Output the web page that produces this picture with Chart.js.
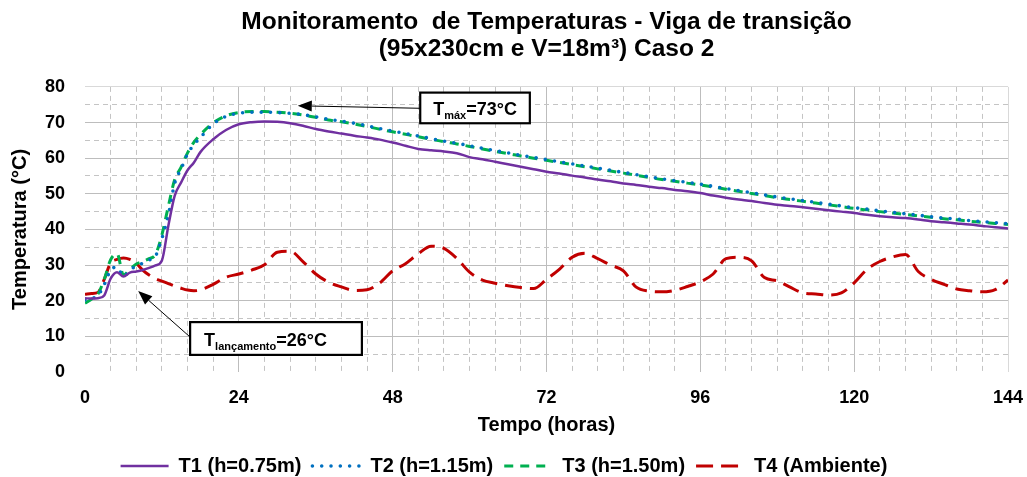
<!DOCTYPE html>
<html><head><meta charset="utf-8">
<script src="https://cdn.jsdelivr.net/npm/chart.js@4.4.0/dist/chart.umd.min.js"></script>
<style>html,body{margin:0;padding:0;background:#fff;}</style>
</head><body>
<canvas id="c" width="1027" height="477"></canvas>
<script>
// ---- data (hours, °C) ----
const hours = [0,1,2,3,4,5,6,7,8,9,10,11,12,13,14,15,16,17,18,
  20,22,24,26,28,30,32,34,36,38,40,42,44,46,48,50,52,54,56,58,60,62,64,66,68,70,72,74,76,78,80,
  82,84,86,88,90,92,94,96,98,100,102,104,106,108,110,112,114,116,118,120,122,124,126,128,130,132,
  134,136,138,140,142,144];
const T1 = [20.7,20.6,20.7,21.5,26.2,28.0,26.8,27.9,28.2,28.6,29.2,29.9,31.3,41.0,49.5,53.2,56.6,58.8,61.7,
  65.3,67.9,69.5,70.1,70.3,70.2,69.8,69.1,68.2,67.5,66.9,66.3,65.8,65.2,64.4,63.5,62.6,62.2,61.9,61.4,60.3,
  59.7,59.0,58.3,57.6,56.9,56.2,55.7,55.1,54.6,54.0,53.5,52.9,52.5,52.0,51.6,51.1,50.7,50.2,49.5,48.9,
  48.4,48.0,47.4,46.9,46.6,46.2,45.8,45.4,45.0,44.6,44.1,43.7,43.4,43.2,42.8,42.3,42.0,41.7,41.4,41.0,40.6,40.3];
const T2 = [20.2,20.7,21.4,24.5,28.6,29.4,26.8,28.6,29.7,30.5,31.4,32.5,37.5,44.0,53.0,57.0,61.2,63.8,65.8,
  69.6,71.7,72.6,72.9,72.9,72.8,72.6,72.2,71.6,70.9,70.4,69.8,69.1,68.3,67.6,66.9,66.2,65.5,64.8,64.2,63.5,
  62.8,62.1,61.5,60.8,60.2,59.6,59.0,58.4,57.8,57.2,56.6,56.0,55.4,54.8,54.2,53.7,53.2,52.7,52.1,51.5,
  50.9,50.3,49.7,49.1,48.6,48.1,47.6,47.1,46.6,46.1,45.7,45.2,44.8,44.4,44.0,43.6,43.2,42.9,42.5,42.2,41.9,41.6];
const T3 = [19.3,20.4,21.8,26.0,31.5,33.2,27.2,28.8,30.3,31.0,31.8,33.0,38.5,46.5,54.0,57.5,61.5,64.5,66.6,
  69.9,71.9,72.8,73.1,73.1,72.9,72.6,72.1,71.5,70.7,70.2,69.6,68.9,68.1,67.4,66.7,66.0,65.3,64.6,64.0,63.3,
  62.6,61.9,61.3,60.6,60.0,59.4,58.8,58.2,57.6,57.0,56.4,55.8,55.2,54.6,54.0,53.5,53.0,52.5,51.9,51.3,
  50.7,50.1,49.5,48.9,48.4,47.9,47.4,46.9,46.4,45.9,45.5,45.0,44.6,44.2,43.8,43.4,43.0,42.7,42.3,42.0,41.7,41.4];
const T4 = [21.8,22.0,22.3,26.0,30.6,31.6,32.0,31.6,30.5,28.6,27.2,26.2,25.5,24.8,24.1,23.5,23.0,22.8,23.0,
  24.6,26.6,27.5,28.6,30.1,33.6,33.9,31.0,27.5,25.2,23.9,22.9,23.1,25.0,28.4,30.4,33.2,35.3,34.7,31.9,28.0,
  25.8,24.9,24.2,23.7,23.4,26.0,28.8,32.2,33.3,31.8,30.0,28.4,23.8,22.7,22.5,22.9,24.0,25.3,27.5,31.8,
  32.2,31.2,26.5,25.6,23.8,22.2,21.9,21.6,22.2,25.0,28.8,31.0,32.3,33.0,28.2,26.0,24.6,23.3,22.8,22.5,23.1,25.8];
const seriesLabels = ['T1 (h=0.75m)', 'T2 (h=1.15m)', 'T3 (h=1.50m)', 'T4 (Ambiente)'];
const titleLines = ['Monitoramento  de Temperaturas - Viga de transição', '(95x230cm e V=18m³) Caso 2'];
const xTitle = 'Tempo (horas)';
const yTitle = 'Temperatura (°C)';

// annotation callouts, anchored in data units (hours, °C)
const callouts = [
  {box:[52.3,78.4,69.4,69.8], from:[52.3,74.0], to:[33.2,74.7], main:'T', sub:'máx', rest:'=73°C', padL:13},
  {box:[16.4,14.0,43.2,4.8], from:[16.4,9.8], to:[8.3,22.7], main:'T', sub:'lançamento', rest:'=26°C', padL:14}
];

const FF = "'Liberation Sans', Arial, sans-serif";
Chart.defaults.font.family = FF;
Chart.defaults.color = '#000';

const pts = arr => hours.map((h,i)=>({x:h, y:arr[i]}));
const styles = [
  {c:'#7030A0', w:2.5, dash:[], cap:'butt'},
  {c:'#0070C0', w:3.6, dash:[0,9.3], cap:'round'},
  {c:'#00B050', w:3, dash:[9,7], cap:'butt'},
  {c:'#C00000', w:3, dash:[17,8], cap:'butt'}
];
const seriesData = [T1,T2,T3,T4];

const calloutPlugin = {
  id: 'callouts',
  afterDatasetsDraw(chart) {
    const {ctx, scales:{x, y}} = chart;
    ctx.save();
    callouts.forEach(c => {
      const fx = x.getPixelForValue(c.from[0]), fy = y.getPixelForValue(c.from[1]);
      const tx = x.getPixelForValue(c.to[0]), ty = y.getPixelForValue(c.to[1]);
      const ang = Math.atan2(ty - fy, tx - fx);
      const hl = 14, hw = 5.5;
      const bx = tx - hl*Math.cos(ang), by = ty - hl*Math.sin(ang);
      ctx.strokeStyle = '#000'; ctx.lineWidth = 1; ctx.setLineDash([]);
      ctx.beginPath(); ctx.moveTo(fx, fy); ctx.lineTo(bx, by); ctx.stroke();
      ctx.fillStyle = '#000';
      ctx.beginPath();
      ctx.moveTo(tx, ty);
      ctx.lineTo(bx + hw*Math.sin(ang), by - hw*Math.cos(ang));
      ctx.lineTo(bx - hw*Math.sin(ang), by + hw*Math.cos(ang));
      ctx.closePath(); ctx.fill();
      const x0 = x.getPixelForValue(c.box[0]), y0 = y.getPixelForValue(c.box[1]);
      const x1 = x.getPixelForValue(c.box[2]), y1 = y.getPixelForValue(c.box[3]);
      ctx.fillStyle = '#fff';
      ctx.fillRect(x0, y0, x1-x0, y1-y0);
      ctx.lineWidth = 2.2; ctx.strokeStyle = '#000';
      ctx.strokeRect(x0, y0, x1-x0, y1-y0);
      const base = (y0 + y1)/2 + 7;
      let cx = x0 + c.padL;
      ctx.fillStyle = '#000'; ctx.textBaseline = 'alphabetic'; ctx.textAlign = 'left';
      ctx.font = 'bold 18px ' + FF; ctx.fillText(c.main, cx, base); cx += ctx.measureText(c.main).width;
      ctx.font = 'bold 11px ' + FF; ctx.fillText(c.sub, cx, base + 4); cx += ctx.measureText(c.sub).width;
      ctx.font = 'bold 18px ' + FF; ctx.fillText(c.rest, cx, base);
    });
    ctx.restore();
  }
};

const gridColor = (v, step, maxV) => {
  if (v === undefined) return '#BFBFBF';
  if (v === 0) return 'rgba(0,0,0,0)';
  if (v === maxV) return '#D9D9D9';
  return (v % step === 0) ? '#BDBDBD' : '#C4C4C4';
};

const BOTTOM_PAD = -9;

new Chart(document.getElementById('c'), {
  type: 'line',
  data: {
    datasets: seriesData.map((arr, i) => ({
      label: seriesLabels[i],
      data: pts(arr),
      borderColor: styles[i].c,
      backgroundColor: styles[i].c,
      borderWidth: styles[i].w,
      borderDash: styles[i].dash,
      borderCapStyle: styles[i].cap,
      pointRadius: 0,
      cubicInterpolationMode: 'monotone',
      fill: false
    }))
  },
  options: {
    responsive: false,
    animation: false,
    devicePixelRatio: 1,
    layout: {padding: {left: 0, right: 19, top: 0, bottom: BOTTOM_PAD}},
    plugins: {
      tooltip: {enabled: false},
      title: {
        display: true, text: titleLines, fullSize: false, color: '#000',
        font: {size: 24.5, weight: 'bold', lineHeight: 1.1},
        padding: {top: 8.5, bottom: 24.5}
      },
      legend: {
        position: 'bottom',
        labels: {
          usePointStyle: true, pointStyle: 'line', pointStyleWidth: 48,
          font: {size: 20, weight: 'bold'}, color: '#000', padding: 11,
          generateLabels: (chart) => chart.data.datasets.map((d, i) => ({
            text: d.label, fillStyle: d.borderColor, strokeStyle: d.borderColor,
            lineWidth: d.borderWidth, lineDash: d.borderDash, lineCap: d.borderCapStyle,
            pointStyle: 'line', fontColor: '#000', hidden: false, datasetIndex: i
          }))
        }
      }
    },
    scales: {
      x: {
        type: 'linear', min: 0, max: 144,
        afterFit: (s) => { s.height = 105 - BOTTOM_PAD - (s.chart.legend ? s.chart.legend.height : 43); },
        ticks: {
          stepSize: 4, autoSkip: false, maxRotation: 0, minRotation: 0, padding: 0,
          font: {size: 18, weight: 'bold'}, color: '#000',
          callback: (v) => (v % 24 === 0 ? String(v) : '')
        },
        grid: {drawTicks: true, tickLength: 15, tickColor: 'rgba(0,0,0,0)', lineWidth: 1,
               color: (c) => gridColor(c.tick && c.tick.value, 24, 144)},
        border: {display: false, dash: (c) => (c.tick && c.tick.value % 24 !== 0) ? [5,4] : []},
        title: {display: true, text: xTitle, color: '#000', font: {size: 20, weight: 'bold'}, padding: {top: 4, bottom: 8}}
      },
      y: {
        min: 0, max: 80,
        afterFit: (s) => { s.width = 85; },
        ticks: {
          stepSize: 5, autoSkip: false, padding: 20,
          font: {size: 18, weight: 'bold'}, color: '#000',
          callback: (v) => (v % 10 === 0 ? String(v) : '')
        },
        grid: {drawTicks: false, lineWidth: 1, color: (c) => gridColor(c.tick && c.tick.value, 10, 80)},
        border: {display: false, dash: (c) => (c.tick && c.tick.value % 10 !== 0) ? [5,4] : []},
        title: {display: true, text: yTitle, color: '#000', font: {size: 20, weight: 'bold'}, padding: {top: 8, bottom: 0}}
      }
    }
  },
  plugins: [calloutPlugin]
});
</script>
</body></html>
